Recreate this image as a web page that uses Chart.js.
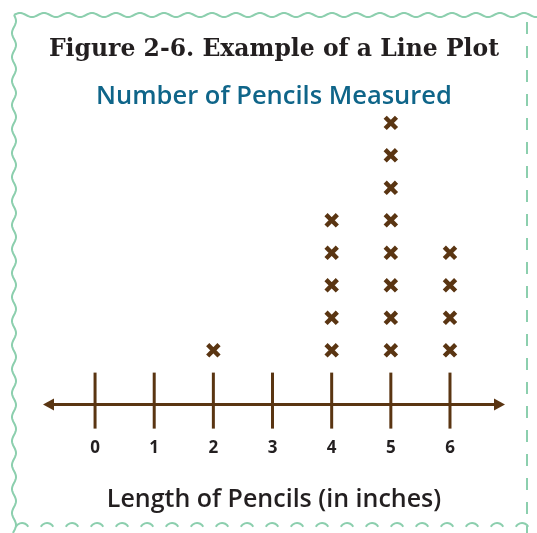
<!DOCTYPE html>
<html>
<head>
<meta charset="utf-8">
<script src="https://cdn.jsdelivr.net/npm/chart.js@4.4.0/dist/chart.umd.min.js"></script>
<style>
  html, body { margin: 0; padding: 0; background: #fff; }
  #wrap { width: 537px; height: 533px; position: relative; }
</style>
</head>
<body>
<div id="wrap"><canvas id="linePlot"></canvas></div>
<script>
// Data
const lengths = [0, 1, 2, 3, 4, 5, 6];
const pencilCounts = [0, 0, 1, 0, 5, 8, 4];
const tickLabels = ['0', '1', '2', '3', '4', '5', '6'];

const brown = '#5a3512';
const frameGreen = '#8ccfae';

// One X per pencil, stacked above its length
const marks = [];
lengths.forEach((len, i) => {
    for (let k = 1; k <= pencilCounts[i]; k++) {
        marks.push({ x: len, y: k });
    }
});

// Wavy frame round the figure
const framePlugin = {
    id: 'frame',
    beforeDraw(chart) {
        const ctx = chart.ctx;
        ctx.save();
        ctx.strokeStyle = frameGreen;
        ctx.lineWidth = 2;
        // top edge
        ctx.beginPath();
        for (let x = 14; x <= 537; x++) {
            const y = 15 - 2 * Math.sin((x - 14) / 12 * Math.PI);
            x === 14 ? ctx.moveTo(x, y) : ctx.lineTo(x, y);
        }
        ctx.stroke();
        // left edge
        ctx.beginPath();
        for (let y = 15; y <= 533; y++) {
            const x = 14 + 2 * Math.sin((y - 15) / 12 * Math.PI);
            y === 15 ? ctx.moveTo(x, y) : ctx.lineTo(x, y);
        }
        ctx.stroke();
        // bottom edge: row of small bumps
        for (let x = 22; x < 537; x += 25) {
            ctx.beginPath();
            ctx.arc(x, 530, 7, Math.PI * 1.15, Math.PI * 1.85);
            ctx.stroke();
        }
        // right edge: dashes
        ctx.setLineDash([12, 12]);
        ctx.beginPath();
        ctx.moveTo(527, 22);
        ctx.lineTo(527, 533);
        ctx.stroke();
        ctx.restore();
    }
};

// Number line with arrows and tick marks, placed by the x scale
const numberLinePlugin = {
    id: 'numberLine',
    afterDatasetsDraw(chart) {
        const ctx = chart.ctx;
        const xs = chart.scales.x;
        const ys = chart.scales.y;
        const yLine = ys.getPixelForValue(ys.min);
        const left = xs.left;
        const right = xs.right;
        ctx.save();
        ctx.strokeStyle = brown;
        ctx.fillStyle = brown;
        ctx.lineWidth = 3;
        ctx.beginPath();
        ctx.moveTo(left + 8, yLine);
        ctx.lineTo(right - 8, yLine);
        ctx.stroke();
        // arrow heads
        ctx.beginPath();
        ctx.moveTo(left, yLine);
        ctx.lineTo(left + 11, yLine - 6);
        ctx.lineTo(left + 11, yLine + 6);
        ctx.closePath();
        ctx.fill();
        ctx.beginPath();
        ctx.moveTo(right, yLine);
        ctx.lineTo(right - 11, yLine - 6);
        ctx.lineTo(right - 11, yLine + 6);
        ctx.closePath();
        ctx.fill();
        // tick marks
        lengths.forEach(len => {
            const px = xs.getPixelForValue(len);
            ctx.beginPath();
            ctx.moveTo(px, yLine - 32);
            ctx.lineTo(px, yLine + 24);
            ctx.stroke();
        });
        ctx.restore();
    }
};

new Chart(document.getElementById('linePlot'), {
    type: 'scatter',
    data: {
        datasets: [{
            label: 'Pencils',
            data: marks,
            pointStyle: 'crossRot',
            pointRadius: 8,
            pointHoverRadius: 8,
            borderColor: brown,
            backgroundColor: brown,
            borderWidth: 4.5
        }]
    },
    options: {
        responsive: true,
        maintainAspectRatio: false,
        animation: false,
        layout: { padding: { left: 43, right: 32, top: 36, bottom: 18 } },
        plugins: {
            legend: { display: false },
            tooltip: { enabled: false },
            title: {
                display: true,
                text: 'Figure 2-6. Example of a Line Plot',
                color: '#231f20',
                font: { family: 'DejaVu Serif', size: 23.5, weight: 'bold' },
                padding: { top: 0, bottom: 17 }
            },
            subtitle: {
                display: true,
                text: 'Number of Pencils Measured',
                color: '#0f6589',
                font: { family: 'Open Sans', size: 25.5, weight: '600' },
                padding: { top: 0, bottom: 1 }
            }
        },
        scales: {
            x: {
                type: 'linear',
                min: -0.88,
                max: 6.93,
                afterBuildTicks(scale) {
                    scale.ticks = lengths.map(v => ({ value: v }));
                },
                grid: { display: false, drawTicks: false },
                border: { display: false },
                ticks: {
                    color: '#231f20',
                    padding: 33,
                    font: { family: 'Open Sans', size: 17, weight: 'bold' },
                    callback: (v) => tickLabels[lengths.indexOf(v)]
                },
                title: {
                    display: true,
                    text: 'Length of Pencils (in inches)',
                    color: '#231f20',
                    font: { family: 'Open Sans', size: 25, weight: '600' },
                    padding: { top: -6, bottom: 0 }
                }
            },
            y: {
                display: false,
                min: -0.67,
                max: 8.31
            }
        }
    },
    plugins: [framePlugin, numberLinePlugin]
});
</script>
</body>
</html>
